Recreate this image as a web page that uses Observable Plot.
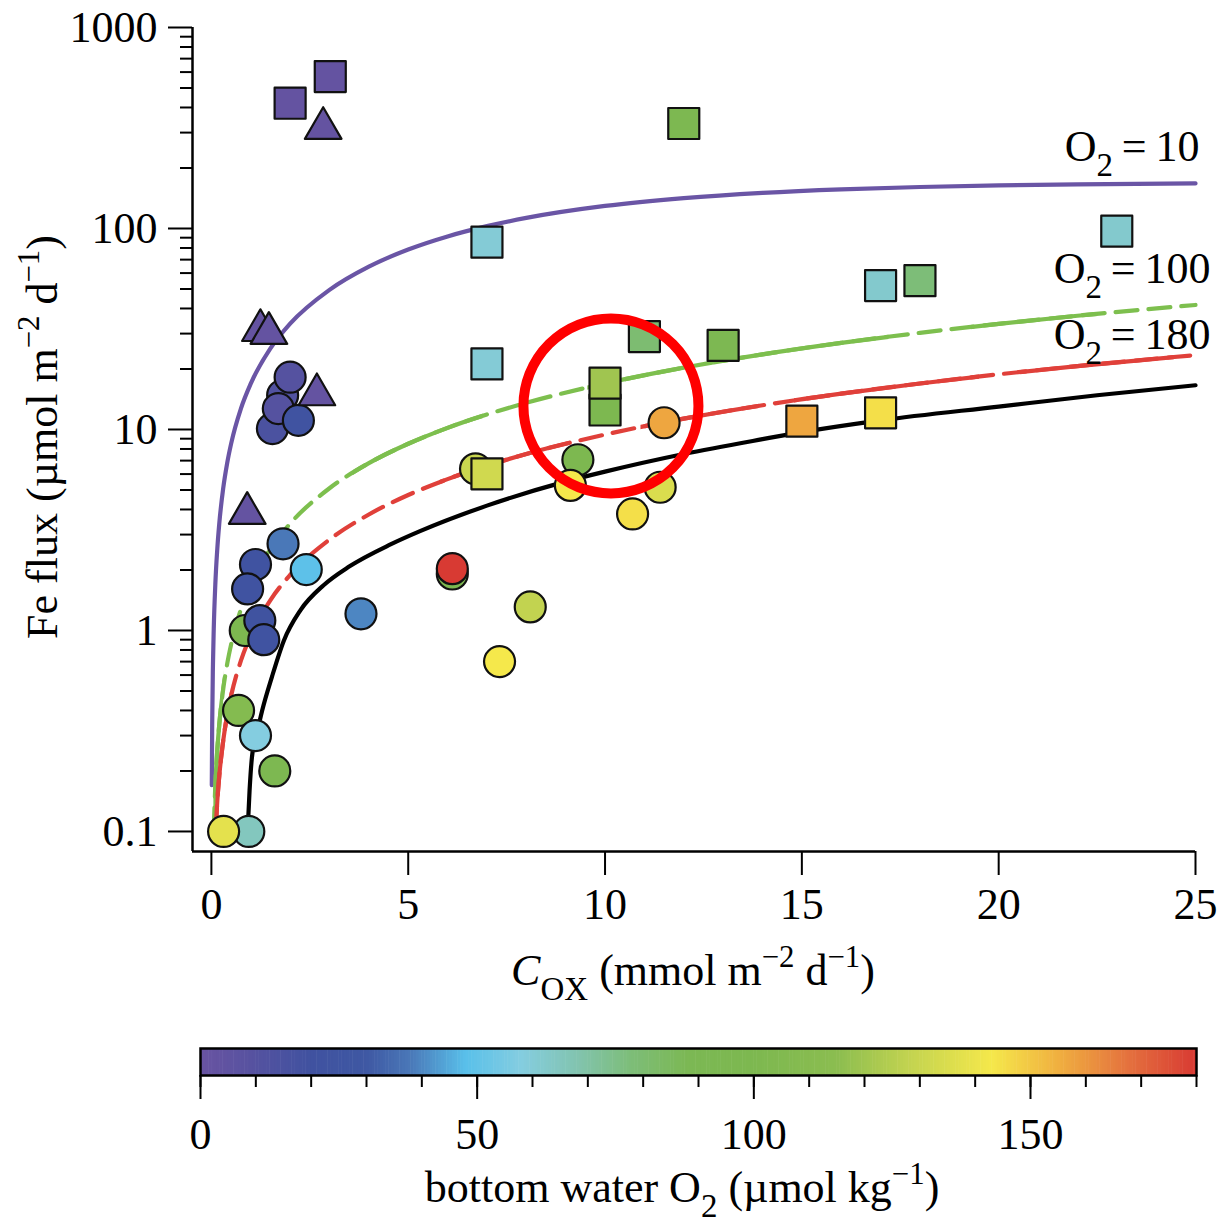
<!DOCTYPE html>
<html><head><meta charset="utf-8">
<script src="https://cdn.jsdelivr.net/npm/d3@7"></script>
<script src="https://cdn.jsdelivr.net/npm/@observablehq/plot@0.6"></script>
<style>body{margin:0;background:#fff} svg{display:block}</style>
</head><body><script>
const FONT = "'Liberation Serif', 'Times New Roman', serif";

// ---------- data ----------
const circleX  = [1.81, 1.55, 2.0, 1.70, 2.21, 0.86, 1.12, 0.92, 1.23, 1.33, 1.82, 2.41, 3.8, 0.69, 1.12, 1.61, 0.95, 0.31, 6.12, 6.12, 8.1, 7.32, 6.71, 9.31, 9.12, 11.4, 10.7, 11.5];
const circleY  = [14.8, 10.1, 18.2, 12.7, 11.1, 1.0, 2.13, 1.61, 1.12, 0.9, 2.7, 2.01, 1.21, 0.40, 0.30, 0.20, 0.10, 0.10, 1.91, 2.03, 1.31, 0.70, 6.37, 7.07, 5.27, 5.16, 3.8, 10.8];
const circleO2 = [12, 15, 10, 10, 22, 100, 22, 22, 21, 22, 38, 49, 40, 108, 58, 98, 65, 138, 100, 180, 128, 143, 130, 100, 143, 135, 145, 157];

const squareX  = [2.0, 3.02, 7.0, 7.0, 12.0, 11.0, 13.0, 10.0, 10.0, 7.0, 15.0, 17.0, 17.0, 18.0, 23.0];
const squareY  = [420, 570, 85.5, 21.2, 333, 29.0, 26.2, 12.5, 17.0, 6.02, 11.0, 12.1, 52, 55, 97];
const squareO2 = [3, 3, 60, 60, 98, 80, 95, 100, 120, 132, 157, 145, 62, 78, 62];

const triangleX  = [2.84, 1.245, 1.46, 2.68, 0.91];
const triangleY  = [315, 31.1, 30.1, 14.9, 3.83];
const triangleO2 = [3, 3, 3, 3, 3];

// model curves
const purpleX = [0.01, 0.02, 0.04, 0.06, 0.1, 0.15, 0.2, 0.3, 0.4, 0.5, 0.75, 1, 1.5, 2, 3, 4, 5, 6, 7, 8, 10, 12, 14, 16, 18, 20, 22, 25];
const purpleY = [0.17, 0.34, 0.68, 1.02, 1.70, 2.55, 3.40, 5.10, 6.79, 8.48, 12.7, 16.9, 25.3, 33.6, 49.5, 64.6, 78.6, 91.3, 102.7, 112.9, 129.5, 141.7, 150.5, 156.7, 160.9, 163.9, 165.9, 167.7];

const greenX = [0.06, 0.1, 0.15, 0.2, 0.3, 0.4, 0.5, 0.75, 1, 1.5, 2, 3, 4, 5, 6, 8, 10, 12, 14, 16, 18, 20, 22, 25];
const greenY = [0.102, 0.170, 0.255, 0.340, 0.510, 0.680, 0.850, 1.275, 1.70, 2.55, 3.40, 5.10, 6.80, 8.49, 10.19, 13.57, 16.94, 20.30, 23.65, 26.97, 30.27, 33.55, 36.81, 41.64];
const greenSolid = [[0.05, 0.3], [3.6, 6.9], [9.55, 12.1], [12.75, 17.2], [19.3, 22.5]];

const redX = [0.11, 0.15, 0.2, 0.3, 0.4, 0.5, 0.75, 1, 1.5, 2, 3, 4, 5, 6, 8, 10, 12, 14, 16, 18, 20, 22, 25];
const redY = [0.104, 0.142, 0.189, 0.283, 0.378, 0.472, 0.708, 0.944, 1.417, 1.889, 2.833, 3.777, 4.72, 5.665, 7.55, 9.435, 11.32, 13.20, 15.07, 16.94, 18.81, 20.67, 23.46];
const redSolid = [[0.1, 0.48], [5.8, 9.1], [10.9, 13.9], [14.8, 19.5], [20.55, 24.45]];

const blackX = [0.92, 0.97, 1.03, 1.16, 1.29, 1.54, 1.84, 2.26, 2.85, 3.5, 4.55, 5.3, 7, 8.9, 10, 12, 14, 15, 17, 20, 22.5, 25];
const blackY = [0.10, 0.16, 0.234, 0.31, 0.40, 0.59, 0.89, 1.26, 1.68, 2.08, 2.68, 3.12, 4.18, 5.44, 6.17, 7.55, 8.95, 9.7, 11.1, 13.0, 14.8, 16.6];

const labelO2 = ["10", "100", "180"];
const labelX  = [25.10, 25.38, 25.38];
const labelY  = [254, 62.8, 29.5];

const ringX = [10.15];
const ringY = [13.1];

const xTicks = [0, 5, 10, 15, 20, 25];
const yMajor = [0.1, 1, 10, 100, 1000];
const yMinor = [0.2,0.3,0.4,0.5,0.6,0.7,0.8,0.9, 2,3,4,5,6,7,8,9, 20,30,40,50,60,70,80,90, 200,300,400,500,600,700,800,900];
const xDomain = [-0.48, 25];
const yDomain = [0.0795, 1000];

const o2Stops  = [0, 10, 20, 30, 38, 48, 58, 68, 78, 88, 100, 115, 128, 143, 155, 168, 180];
const o2Colors = ["#6a54a2","#5552a0","#4052a0","#3f58a3","#4a78b8","#59c0ea","#84cde0","#82c4b0","#7dbd78","#7cb854","#7db850","#8bbd50","#c2d350","#f5e84b","#f0b040","#e4703e","#d83a33"];
const cbMinor = [0,10,20,30,40,50,60,70,80,90,100,110,120,130,140,150,160,170,180];
const cbMajor = [0, 50, 100, 150];

// ---------- helpers ----------
const pts = (xs, ys, extra) => xs.map((x, i) => ({x, y: ys[i], v: extra ? extra[i] : undefined}));
const colorOpts = {type: "linear", domain: o2Stops, range: o2Colors, interpolate: "rgb"};
const FS = 44;

function fillRich(t, parts, size) {
  let cur = 0;
  for (const [s, m] of parts) {
    let off = 0, fs = size, style = null;
    if (m === "sup") { off = -0.42 * size; fs = 0.7 * size; }
    else if (m === "sub") { off = 0.33 * size; fs = 0.75 * size; }
    else if (m === "it") style = "italic";
    const sp = t.append("tspan").attr("font-size", fs).text(s);
    if (off - cur !== 0) sp.attr("dy", off - cur);
    if (style) sp.attr("font-style", style);
    cur = off;
  }
}
function addRich(svg, {x, y, rotate, size = FS, parts}) {
  const t = d3.select(svg).append("text")
    .attr("transform", rotate ? `translate(${x},${y}) rotate(${rotate})` : `translate(${x},${y})`)
    .attr("text-anchor", "middle").attr("font-family", FONT).attr("font-size", size).attr("fill", "black");
  fillRich(t, parts, size);
}

// ---------- main chart ----------
const W = 1230, H = 1020;
const lineW = 4.2, dash = "22,11";
const main = Plot.plot({
  width: W, height: H,
  marginLeft: 192, marginRight: 35, marginTop: 27, marginBottom: 169,
  style: {fontFamily: FONT, fontSize: FS + "px", background: "white", overflow: "visible"},
  x: {domain: xDomain, label: null},
  y: {type: "log", domain: yDomain, label: null},
  color: colorOpts,
  marks: [
    Plot.ruleX([xDomain[0]], {strokeWidth: 2.5}),
    Plot.ruleY([yDomain[0]], {strokeWidth: 2.5}),
    Plot.axisX({ticks: xTicks, tickSize: 24, tickPadding: 12, strokeWidth: 2, fontSize: FS, tickFormat: d => String(d)}),
    Plot.axisY({ticks: yMajor, tickSize: 24, tickPadding: 11, strokeWidth: 2, fontSize: FS, tickFormat: d => String(d)}),
    Plot.axisY({ticks: yMinor, tickSize: 12, strokeWidth: 2, tickFormat: () => ""}),
    Plot.line(pts(purpleX, purpleY), {x: "x", y: "y", stroke: "#6a55a5", strokeWidth: lineW, curve: "monotone-x"}),
    Plot.line(pts(greenX, greenY), {x: "x", y: "y", stroke: "#7dbf4e", strokeWidth: lineW, strokeDasharray: dash, curve: "monotone-x"}),
    Plot.line(pts(greenX, greenY), {x: "x", y: "y", stroke: "#7dbf4e", strokeWidth: lineW, curve: "monotone-x", className: "solid-green"}),
    Plot.line(pts(redX, redY), {x: "x", y: "y", stroke: "#e0403a", strokeWidth: lineW, strokeDasharray: dash, curve: "monotone-x"}),
    Plot.line(pts(redX, redY), {x: "x", y: "y", stroke: "#e0403a", strokeWidth: lineW, curve: "monotone-x", className: "solid-red"}),
    Plot.line(pts(blackX, blackY), {x: "x", y: "y", stroke: "black", strokeWidth: lineW, curve: "monotone-x"}),
    Plot.dot(pts(circleX, circleY, circleO2), {x: "x", y: "y", fill: "v", r: 15.5, stroke: "#111", strokeWidth: 2.2}),
    Plot.dot(pts(squareX, squareY, squareO2), {x: "x", y: "y", fill: "v", r: 17.5, symbol: "square", stroke: "#111", strokeWidth: 2.2, strokeLinejoin: "round"}),
    Plot.dot(pts(triangleX, triangleY, triangleO2), {x: "x", y: "y", fill: "v", r: 13.6, symbol: "triangle", stroke: "#111", strokeWidth: 2.2, strokeLinejoin: "round"}),
    Plot.text(pts(labelX, labelY, labelO2), {x: "x", y: "y", text: d => "O2 = " + d.v, textAnchor: "end", fontSize: FS, fill: "black", className: "o2lab"}),
    Plot.dot(pts(ringX, ringY), {x: "x", y: "y", r: 87.5, stroke: "#ff0000", strokeWidth: 10, fill: "none"})
  ]
});
document.body.append(main);

const xs = main.scale("x");
function clipSolid(cls, ranges, id) {
  const s = d3.select(main);
  const g = s.select("g." + cls);
  if (g.empty()) return;
  const cp = s.append("defs").append("clipPath").attr("id", id);
  for (const [a, b] of ranges) {
    cp.append("rect").attr("x", xs.apply(a)).attr("width", xs.apply(b) - xs.apply(a)).attr("y", 0).attr("height", H);
  }
  g.attr("clip-path", `url(#${id})`);
}
clipSolid("solid-green", greenSolid, "clipGreen");
clipSolid("solid-red", redSolid, "clipRed");

d3.select(main).selectAll(".o2lab text").each(function () {
  const val = this.textContent.replace("O2 = ", "");
  const t = d3.select(this);
  t.text(null);
  fillRich(t, [["O", ""], ["2", "sub"], ["\u2009=\u2009" + val, ""]], FS);
});

addRich(main, {x: 57, y: 437, rotate: -90, parts: [["Fe flux (\u00b5mol m", ""], ["\u22122", "sup"], [" d", ""], ["\u22121", "sup"], [")", ""]]});
addRich(main, {x: 693, y: 985, parts: [["C", "it"], ["OX", "sub"], [" (mmol m", ""], ["\u22122", "sup"], [" d", ""], ["\u22121", "sup"], [")", ""]]});

// ---------- colour bar ----------
const barVals = d3.range(0, 180, 0.5);
const legend = Plot.plot({
  width: W, height: 205,
  marginLeft: 200, marginRight: 34, marginTop: 28, marginBottom: 150,
  style: {fontFamily: FONT, fontSize: FS + "px", background: "white", overflow: "visible"},
  x: {domain: [0, 180], label: null},
  y: {domain: [0, 1], label: null, axis: null},
  color: colorOpts,
  marks: [
    Plot.rect(barVals, {x1: d => d, x2: d => Math.min(d + 0.6, 180), y1: 0, y2: 1, fill: d => d + 0.25}),
    Plot.frame({stroke: "black", strokeWidth: 2.5}),
    Plot.axisX({ticks: cbMinor, tickSize: 12, strokeWidth: 2, tickFormat: () => ""}),
    Plot.axisX({ticks: cbMajor, tickSize: 24, tickPadding: 18, strokeWidth: 2, fontSize: FS, tickFormat: d => String(d)})
  ]
});
document.body.append(legend);
addRich(legend, {x: 682, y: 182, parts: [["bottom water O", ""], ["2", "sub"], [" (\u00b5mol kg", ""], ["\u22121", "sup"], [")", ""]]});
</script></body></html>
